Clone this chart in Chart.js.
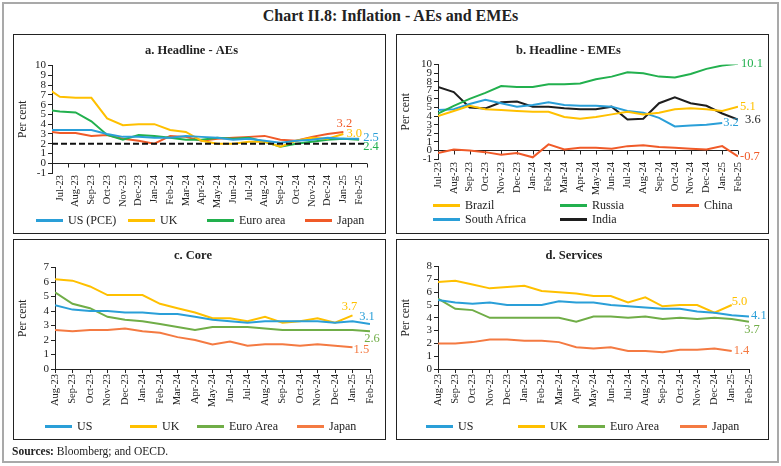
<!DOCTYPE html>
<html>
<head>
<meta charset="utf-8">
<script src="https://cdn.jsdelivr.net/npm/chart.js@4/dist/chart.umd.min.js"></script>
<style>
body { margin: 0; background: #fff; font-family: 'Liberation Serif', serif; color: #222; }
#page { position: relative; width: 781px; height: 466px; overflow: hidden; }
#cadre { position: absolute; left: 2px; top: 2px; width: 773px; height: 457px; border: 2px solid #a9a9a9; }
#titre { position: absolute; left: 0; top: 7px; width: 781px; text-align: center; font-size: 16px; font-weight: bold; }
.panel { position: absolute; width: 373px; border: 1px solid #222; box-sizing: border-box; }
.panel canvas { position: absolute; left: 0; top: 0; }
.legende { position: absolute; display: grid; font-size: 12px; }
.item { display: flex; align-items: center; height: 14px; white-space: nowrap; }
.trait { display: inline-block; width: 27px; height: 3px; margin-right: 5px; }
#sources { position: absolute; left: 12px; top: 445px; font-size: 11.5px; }
</style>
</head>
<body>
<div id="page">
  <div id="cadre"></div>
  <div id="titre">Chart II.8: Inflation - AEs and EMEs</div>

  <div class="panel" style="left:13px; top:34px; height:200px;">
    <canvas id="graphA" width="371" height="198"></canvas>
    <div class="legende" id="legA" style="left:22px; top:178px; grid-template-columns:92px 79px 98px auto;"></div>
  </div>
  <div class="panel" style="left:396px; top:34px; height:200px;">
    <canvas id="graphB" width="371" height="198"></canvas>
    <div class="legende" id="legB" style="left:36px; top:163px; grid-template-columns:127px 112px auto;"></div>
  </div>
  <div class="panel" style="left:13px; top:239px; height:201px;">
    <canvas id="graphC" width="371" height="199"></canvas>
    <div class="legende" id="legC" style="left:31px; top:179px; grid-template-columns:85px 67px 100px auto;"></div>
  </div>
  <div class="panel" style="left:396px; top:239px; height:201px;">
    <canvas id="graphD" width="371" height="199"></canvas>
    <div class="legende" id="legD" style="left:29px; top:179px; grid-template-columns:92px 60px 102px auto;"></div>
  </div>

  <div id="sources"><b>Sources:</b> Bloomberg; and OECD.</div>
</div>

<script>
// a. Headline - AEs (Jun-23 kept so the lines start at the axis)
var moisA = ['Jun-23', 'Jul-23', 'Aug-23', 'Sep-23', 'Oct-23', 'Nov-23', 'Dec-23', 'Jan-24', 'Feb-24', 'Mar-24', 'Apr-24',
    'May-24', 'Jun-24', 'Jul-24', 'Aug-24', 'Sep-24', 'Oct-24', 'Nov-24', 'Dec-24', 'Jan-25', 'Feb-25'];
var usPceA = [3.4, 3.4, 3.4, 3.4, 3.0, 2.7, 2.7, 2.6, 2.6, 2.8, 2.7, 2.6, 2.4, 2.5, 2.3, 2.1, 2.3, 2.4, 2.6, 2.5, 2.5];
var ukA = [7.9, 6.8, 6.7, 6.7, 4.6, 3.9, 4.0, 4.0, 3.4, 3.2, 2.3, 2.0, 2.0, 2.2, 2.2, 1.7, 2.3, 2.6, 2.5, 3.0, null];
var euroA = [5.5, 5.3, 5.2, 4.3, 2.9, 2.4, 2.9, 2.8, 2.6, 2.4, 2.4, 2.6, 2.5, 2.6, 2.2, 1.7, 2.0, 2.2, 2.4, 2.5, 2.4];
var japonA = [3.3, 3.1, 3.1, 2.8, 2.9, 2.5, 2.3, 2.0, 2.8, 2.7, 2.3, 2.5, 2.6, 2.7, 2.8, 2.4, 2.3, 2.7, 3.0, 3.2, null];
var cibleAE = 2;

// b. Headline - EMEs
var moisB = ['Jul-23', 'Aug-23', 'Sep-23', 'Oct-23', 'Nov-23', 'Dec-23', 'Jan-24', 'Feb-24', 'Mar-24', 'Apr-24',
    'May-24', 'Jun-24', 'Jul-24', 'Aug-24', 'Sep-24', 'Oct-24', 'Nov-24', 'Dec-24', 'Jan-25', 'Feb-25'];
var bresil = [4.0, 4.6, 5.2, 4.8, 4.7, 4.6, 4.5, 4.5, 3.9, 3.7, 3.9, 4.2, 4.5, 4.2, 4.4, 4.8, 4.9, 4.8, 4.6, 5.1];
var russie = [4.3, 5.2, 6.0, 6.7, 7.5, 7.4, 7.4, 7.7, 7.7, 7.8, 8.3, 8.6, 9.1, 9.0, 8.6, 8.5, 8.9, 9.5, 9.9, 10.1];
var chine = [-0.3, 0.1, 0.0, -0.2, -0.5, -0.3, -0.8, 0.7, 0.1, 0.3, 0.3, 0.2, 0.5, 0.6, 0.4, 0.3, 0.2, 0.1, 0.5, -0.7];
var afriqueSud = [4.7, 4.8, 5.4, 5.9, 5.5, 5.1, 5.3, 5.6, 5.3, 5.2, 5.2, 5.1, 4.6, 4.4, 3.8, 2.8, 2.9, 3.0, 3.2, null];
var inde = [7.4, 6.8, 5.0, 4.9, 5.6, 5.7, 5.1, 5.1, 4.9, 4.8, 4.8, 5.1, 3.6, 3.7, 5.5, 6.2, 5.5, 5.2, 4.3, 3.6];

// c. Core et d. Services
var moisCD = ['Aug-23', 'Sep-23', 'Oct-23', 'Nov-23', 'Dec-23', 'Jan-24', 'Feb-24', 'Mar-24', 'Apr-24',
    'May-24', 'Jun-24', 'Jul-24', 'Aug-24', 'Sep-24', 'Oct-24', 'Nov-24', 'Dec-24', 'Jan-25', 'Feb-25'];
var usCore = [4.4, 4.1, 4.0, 4.0, 3.9, 3.9, 3.8, 3.8, 3.6, 3.4, 3.3, 3.2, 3.3, 3.3, 3.3, 3.3, 3.2, 3.3, 3.1];
var ukCore = [6.2, 6.1, 5.7, 5.1, 5.1, 5.1, 4.5, 4.2, 3.9, 3.5, 3.5, 3.3, 3.6, 3.2, 3.3, 3.5, 3.2, 3.7, null];
var euroCore = [5.3, 4.5, 4.2, 3.6, 3.4, 3.3, 3.1, 2.9, 2.7, 2.9, 2.9, 2.9, 2.8, 2.7, 2.7, 2.7, 2.7, 2.7, 2.6];
var japonCore = [2.7, 2.6, 2.7, 2.7, 2.8, 2.6, 2.5, 2.2, 2.0, 1.7, 1.9, 1.6, 1.7, 1.7, 1.6, 1.7, 1.6, 1.5, null];

var usServ = [5.4, 5.2, 5.1, 5.2, 5.0, 5.0, 5.0, 5.3, 5.2, 5.2, 5.0, 4.9, 4.8, 4.7, 4.7, 4.5, 4.4, 4.2, 4.1];
var ukServ = [6.8, 6.9, 6.6, 6.3, 6.4, 6.5, 6.1, 6.0, 5.9, 5.7, 5.7, 5.2, 5.6, 4.9, 5.0, 5.0, 4.4, 5.0, null];
var euroServ = [5.5, 4.7, 4.6, 4.0, 4.0, 4.0, 4.0, 4.0, 3.7, 4.1, 4.1, 4.0, 4.1, 3.9, 4.0, 3.9, 4.0, 3.9, 3.7];
var japonServ = [2.0, 2.0, 2.1, 2.3, 2.3, 2.2, 2.2, 2.1, 1.7, 1.6, 1.7, 1.4, 1.4, 1.3, 1.5, 1.5, 1.6, 1.4, null];

var SERIF = "'Liberation Serif', serif";
var BLEU = '#2a9fd8';
var JAUNE = '#ffc000';
var VERT = '#22b04e';
var ROUGE = '#f05a28';
var NOIR = '#1e1e1e';
var VERT2 = '#70ad47';
var ORANGE = '#f47a42';

// x axis at zero with small tick marks
var axeZero = {
    id: 'axeZero',
    beforeDatasetsDraw: function (chart, args, opts) {
        var x = chart.scales.x;
        var y0 = Math.round(chart.scales.y.getPixelForValue(0)) + 0.5;
        var ctx = chart.ctx;
        var i, px;
        ctx.save();
        ctx.strokeStyle = '#222';
        ctx.lineWidth = 1;
        ctx.beginPath();
        ctx.moveTo(x.left, y0);
        ctx.lineTo(x.right, y0);
        if (opts.entre) {
            var n = x.ticks.length;
            for (i = 0; i <= n; i++) {
                px = Math.round(x.left + i * x.width / n) + 0.5;
                ctx.moveTo(px, y0);
                ctx.lineTo(px, y0 + 4);
            }
        } else {
            for (i = 0; i < x.ticks.length; i++) {
                px = Math.round(x.getPixelForTick(i)) + 0.5;
                ctx.moveTo(px, y0);
                ctx.lineTo(px, y0 + 4);
            }
        }
        ctx.stroke();
        ctx.restore();
    }
};

// dashed 2 per cent line
var ligneCible = {
    id: 'ligneCible',
    afterDatasetsDraw: function (chart) {
        var x = chart.scales.x;
        var py = chart.scales.y.getPixelForValue(cibleAE);
        var ctx = chart.ctx;
        ctx.save();
        ctx.strokeStyle = '#111';
        ctx.lineWidth = 2;
        ctx.setLineDash([6, 3]);
        ctx.beginPath();
        ctx.moveTo(x.left, py);
        ctx.lineTo(x.right - 3, py);
        ctx.stroke();
        ctx.restore();
    }
};

// last value written next to each line
var etiquettesFin = {
    id: 'etiquettesFin',
    afterDatasetsDraw: function (chart) {
        var ctx = chart.ctx;
        chart.data.datasets.forEach(function (ds, i) {
            if (!ds.etiquette) return;
            var j = ds.data.length - 1;
            while (j >= 0 && ds.data[j] === null) j--;
            var pt = chart.getDatasetMeta(i).data[j];
            ctx.save();
            ctx.font = '12.5px ' + SERIF;
            ctx.fillStyle = ds.borderColor;
            ctx.textAlign = ds.etiquette.align || 'left';
            ctx.textBaseline = 'middle';
            ctx.fillText(ds.data[j].toFixed(1), pt.x + ds.etiquette.dx, pt.y + ds.etiquette.dy);
            ctx.restore();
        });
    }
};

function Serie(nom, valeurs, couleur, etiquette) {
    return {
        label: nom,
        data: valeurs,
        borderColor: couleur,
        backgroundColor: couleur,
        borderWidth: 2,
        pointRadius: 0,
        tension: 0,
        clip: 0,
        etiquette: etiquette
    };
}

function Options(p) {
    var axeX = {
        type: 'category',
        offset: p.offset,
        ticks: {
            color: '#222', font: { family: SERIF, size: 10.5 },
            minRotation: 90, maxRotation: 90, autoSkip: false, padding: p.xPadding
        },
        afterFit: function (s) { s.height = p.xHeight; }
    };
    if (p.min) { axeX.min = p.min; axeX.max = p.max; }
    if (p.axeBas) {
        axeX.grid = { display: true, drawOnChartArea: false, drawTicks: true, tickLength: 4, color: '#222' };
        axeX.border = { display: true, color: '#222' };
    } else {
        axeX.grid = { display: false, drawTicks: false };
        axeX.border = { display: false };
    }
    return {
        responsive: false,
        animation: false,
        events: [],
        layout: { padding: { left: 2, right: p.right, top: 0, bottom: p.bottom } },
        plugins: {
            legend: { display: false },
            tooltip: { enabled: false },
            title: {
                display: true, text: p.titre, color: '#222',
                font: { family: SERIF, size: 12.5, weight: 'bold' },
                padding: { top: 8, bottom: p.ecartTitre }
            },
            axeZero: { entre: p.offset }
        },
        scales: {
            x: axeX,
            y: {
                min: p.yMin, max: p.yMax,
                ticks: { stepSize: 1, autoSkip: false, color: '#222', font: { family: SERIF, size: 11, lineHeight: 1 }, padding: 2 },
                grid: { drawOnChartArea: false, drawTicks: true, tickLength: 4, color: '#222' },
                border: { display: true, color: '#222' },
                title: { display: true, text: 'Per cent', color: '#222', font: { family: SERIF, size: 11.5 }, padding: { top: 0, bottom: 0 } },
                afterFit: function (s) { s.width = p.yWidth; }
            }
        }
    };
}

function Legende(chart, idDiv) {
    var div = document.getElementById(idDiv);
    chart.data.datasets.forEach(function (ds) {
        var item = document.createElement('div');
        item.className = 'item';
        var trait = document.createElement('span');
        trait.className = 'trait';
        trait.style.background = ds.borderColor;
        item.appendChild(trait);
        item.appendChild(document.createTextNode(ds.label));
        div.appendChild(item);
    });
}

var graphA = new Chart(document.getElementById('graphA').getContext('2d'), {
    type: 'line',
    data: {
        labels: moisA,
        datasets: [
            Serie('US (PCE)', usPceA, BLEU, { dx: 4, dy: -1 }),
            Serie('UK', ukA, JAUNE, { dx: 3, dy: 0 }),
            Serie('Euro area', euroA, VERT, { dx: 4, dy: 7 }),
            Serie('Japan', japonA, ROUGE, { dx: 1, dy: -8, align: 'center' })
        ]
    },
    options: Options({
        titre: 'a. Headline - AEs', offset: true, min: 'Jul-23', max: 'Feb-25',
        yMin: -1, yMax: 10, yWidth: 36, right: 18, ecartTitre: 7.6,
        xHeight: 36, bottom: 24, xPadding: 2, axeBas: false
    }),
    plugins: [axeZero, ligneCible, etiquettesFin]
});
Legende(graphA, 'legA');

var graphB = new Chart(document.getElementById('graphB').getContext('2d'), {
    type: 'line',
    data: {
        labels: moisB,
        datasets: [
            Serie('Brazil', bresil, JAUNE, { dx: 2, dy: 0 }),
            Serie('Russia', russie, VERT, { dx: 3, dy: 0 }),
            Serie('China', chine, ROUGE, { dx: 2, dy: 0 }),
            Serie('South Africa', afriqueSud, BLEU, { dx: 1, dy: 0 }),
            Serie('India', inde, NOIR, { dx: 7, dy: 0 })
        ]
    },
    options: Options({
        titre: 'b. Headline - EMEs', offset: false,
        yMin: -1, yMax: 10, yWidth: 39, right: 30, ecartTitre: 6.6,
        xHeight: 40, bottom: 34, xPadding: 3, axeBas: false
    }),
    plugins: [axeZero, etiquettesFin]
});
Legende(graphB, 'legB');

var graphC = new Chart(document.getElementById('graphC').getContext('2d'), {
    type: 'line',
    data: {
        labels: moisCD,
        datasets: [
            Serie('US', usCore, BLEU, { dx: -3, dy: -7, align: 'center' }),
            Serie('UK', ukCore, JAUNE, { dx: -3, dy: -9, align: 'center' }),
            Serie('Euro Area', euroCore, VERT2, { dx: 2, dy: 7, align: 'center' }),
            Serie('Japan', japonCore, ORANGE, { dx: 1, dy: 2 })
        ]
    },
    options: Options({
        titre: 'c. Core', offset: false,
        yMin: 0, yMax: 7, yWidth: 39, right: 15, ecartTitre: 4.6,
        xHeight: 42, bottom: 28, xPadding: 1, axeBas: true
    }),
    plugins: [etiquettesFin]
});
Legende(graphC, 'legC');

var graphD = new Chart(document.getElementById('graphD').getContext('2d'), {
    type: 'line',
    data: {
        labels: moisCD,
        datasets: [
            Serie('US', usServ, BLEU, { dx: 2, dy: -1 }),
            Serie('UK', ukServ, JAUNE, { dx: 0, dy: -3 }),
            Serie('Euro Area', euroServ, VERT2, { dx: 3, dy: 8, align: 'center' }),
            Serie('Japan', japonServ, ORANGE, { dx: 2, dy: 0 })
        ]
    },
    options: Options({
        titre: 'd. Services', offset: false,
        yMin: 0, yMax: 8, yWidth: 39, right: 19, ecartTitre: 3.6,
        xHeight: 42, bottom: 28, xPadding: 1, axeBas: true
    }),
    plugins: [etiquettesFin]
});
Legende(graphD, 'legD');
</script>
</body>
</html>
